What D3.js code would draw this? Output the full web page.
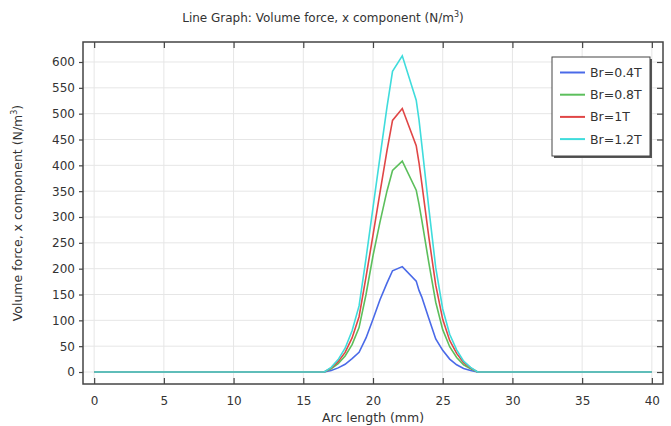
<!DOCTYPE html>
<html>
<head>
<meta charset="utf-8">
<script src="https://cdn.jsdelivr.net/npm/d3@7"></script>
<style>
  body { margin: 0; background: #fff; }
  text { font-family: "DejaVu Sans", sans-serif; fill: #333; }
</style>
</head>
<body>
<div id="chart"></div>
<script>
var svgWidth = 671;
var svgHeight = 426;

var margin = { top: 42, right: 8, bottom: 42, left: 83 };
var width = svgWidth - margin.left - margin.right;
var height = svgHeight - margin.top - margin.bottom;

// Arc length (mm) sample points
var arcLength = [0, 16.5, 17, 17.5, 18, 18.5, 19, 19.5, 20, 20.5, 21, 21.4, 22.1, 23.1, 23.3, 23.5, 24, 24.5, 25, 25.5, 26, 26.5, 27, 27.5, 40];

// Volume force, x component (N/m^3)
var br04 = [0, 0, 3, 8, 15, 26, 38, 66, 102, 140, 172, 196, 204, 176, 158, 145, 104, 64, 42, 25, 14, 7, 3, 0, 0];
var br08 = [0, 0, 6, 16, 31, 53, 86, 150, 225, 290, 350, 390, 408, 352, 325, 294, 212, 135, 82, 49, 28, 14, 6, 0, 0];
var br1 = [0, 0, 8, 20, 38, 66, 107, 184, 265, 347, 428, 487, 510, 438, 405, 365, 262, 168, 102, 61, 36, 18, 8, 0, 0];
var br12 = [0, 0, 9, 24, 46, 80, 128, 220, 318, 416, 512, 582, 612, 526, 488, 440, 318, 202, 122, 73, 43, 21, 9, 0, 0];

var seriesNames = ["Br=0.4T", "Br=0.8T", "Br=1T", "Br=1.2T"];
var seriesValues = [br04, br08, br1, br12];
var colors = ["#4a6ae8", "#5cbf5c", "#e04646", "#3fdcdc"];

var xTicks = [0, 5, 10, 15, 20, 25, 30, 35, 40];
var yTicks = [0, 50, 100, 150, 200, 250, 300, 350, 400, 450, 500, 550, 600];

var svg = d3.select("#chart")
    .append("svg")
    .attr("width", svgWidth)
    .attr("height", svgHeight);

var chartGroup = svg.append("g")
    .attr("transform", `translate(${margin.left}, ${margin.top})`);

var xScale = d3.scaleLinear()
    .domain([-0.8, 40.8])
    .range([0, width]);

var yScale = d3.scaleLinear()
    .domain([-23.2, 638.7])
    .range([height, 0]);

// grid
chartGroup.selectAll("line.vgrid")
    .data(xTicks)
    .enter()
    .append("line")
    .attr("x1", d => xScale(d))
    .attr("x2", d => xScale(d))
    .attr("y1", 0)
    .attr("y2", height)
    .attr("stroke", "#e6e6e6")
    .attr("stroke-width", 1);

chartGroup.selectAll("line.hgrid")
    .data(yTicks)
    .enter()
    .append("line")
    .attr("x1", 0)
    .attr("x2", width)
    .attr("y1", d => yScale(d))
    .attr("y2", d => yScale(d))
    .attr("stroke", "#e6e6e6")
    .attr("stroke-width", 1);

// lines
var line = d3.line()
    .x((d, i) => xScale(arcLength[i]))
    .y(d => yScale(d));

seriesValues.forEach((vals, i) => {
    chartGroup.append("path")
        .datum(vals)
        .attr("fill", "none")
        .attr("stroke", colors[i])
        .attr("stroke-width", 1.6)
        .attr("d", line);
});

// axes
var bottomAxis = d3.axisBottom(xScale).tickValues(xTicks).tickSizeInner(-6).tickSizeOuter(0).tickPadding(12);
var topAxis = d3.axisTop(xScale).tickValues(xTicks).tickSizeInner(-6).tickSizeOuter(0).tickFormat("");
var leftAxis = d3.axisLeft(yScale).tickValues(yTicks).tickSizeInner(4).tickSizeOuter(0).tickPadding(4);
var rightAxis = d3.axisRight(yScale).tickValues(yTicks).tickSizeInner(-6).tickSizeOuter(0).tickFormat("");

function styleAxis(g) {
    g.select(".domain").remove();
    g.selectAll(".tick line").attr("stroke", "#444").attr("stroke-width", 1.2);
    g.selectAll(".tick text").attr("font-size", 12).attr("fill", "#333")
        .attr("font-family", "DejaVu Sans, sans-serif");
}

chartGroup.append("g").attr("transform", `translate(0, ${height})`).call(bottomAxis).call(styleAxis);
chartGroup.append("g").call(topAxis).call(styleAxis);
chartGroup.append("g").call(leftAxis).call(styleAxis);
chartGroup.append("g").attr("transform", `translate(${width}, 0)`).call(rightAxis).call(styleAxis);

// frame
chartGroup.append("rect")
    .attr("width", width)
    .attr("height", height)
    .attr("fill", "none")
    .attr("stroke", "#444")
    .attr("stroke-width", 1.5);

// legend
var legend = chartGroup.append("g")
    .attr("transform", `translate(${552 - margin.left}, ${57 - margin.top})`);

legend.append("rect")
    .attr("x", 2).attr("y", 2)
    .attr("width", 98).attr("height", 99)
    .attr("fill", "#555");
legend.append("rect")
    .attr("width", 98).attr("height", 99)
    .attr("fill", "#fff")
    .attr("stroke", "#444")
    .attr("stroke-width", 1);

seriesNames.forEach((name, i) => {
    var yy = 15.5 + i * 22.2;
    legend.append("line")
        .attr("x1", 8).attr("x2", 33)
        .attr("y1", yy).attr("y2", yy)
        .attr("stroke", colors[i])
        .attr("stroke-width", 2);
    legend.append("text")
        .attr("x", 38).attr("y", yy + 4.5)
        .attr("font-size", 12.5)
        .text(name);
});

// titles
svg.append("text")
    .attr("x", 323)
    .attr("y", 22)
    .attr("text-anchor", "middle")
    .attr("font-size", 12)
    .attr("font-family", "Open Sans, sans-serif")
    .html("Line Graph: Volume force, x component (N/m<tspan dy='-5' font-size='8'>3</tspan><tspan dy='5'>)</tspan>");

svg.append("text")
    .attr("x", margin.left + width / 2)
    .attr("y", 422)
    .attr("text-anchor", "middle")
    .attr("font-size", 12.5)
    .text("Arc length (mm)");

svg.append("text")
    .attr("transform", `translate(22, ${margin.top + height / 2}) rotate(-90)`)
    .attr("text-anchor", "middle")
    .attr("font-size", 12.5)
    .html("Volume force, x component (N/m<tspan dy='-5' font-size='8'>3</tspan><tspan dy='5'>)</tspan>");
</script>
</body>
</html>
